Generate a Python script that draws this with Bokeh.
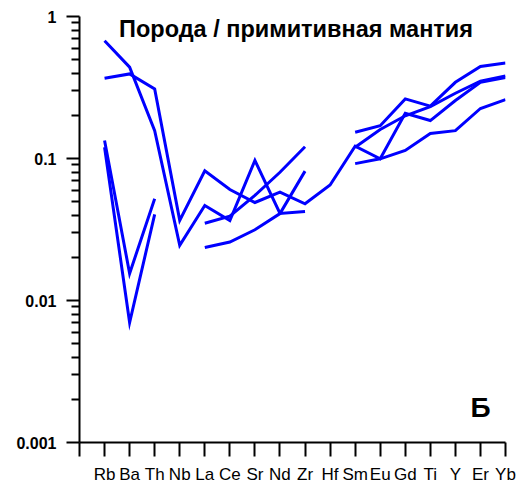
import numpy as np
from bokeh.plotting import figure
from bokeh.models import Range1d, FixedTicker, Label
from bokeh.embed import file_html
from bokeh.resources import INLINE

nan = np.nan

elements = ["Rb", "Ba", "Th", "Nb", "La", "Ce", "Sr", "Nd", "Zr", "Hf",
            "Sm", "Eu", "Gd", "Ti", "Y", "Er", "Yb"]

sample_1 = [0.675, 0.44, 0.157, 0.0245, 0.0467, 0.0366, 0.097, 0.041, 0.0424, nan,
            0.092, 0.0995, 0.114, 0.15, 0.157, 0.225, 0.26]
sample_2 = [0.367, 0.394, 0.309, 0.0367, 0.082, 0.0605, 0.049, 0.058, 0.048, 0.065,
            0.122, 0.0995, 0.208, 0.185, 0.256, 0.344, 0.372]
sample_3 = [0.134, 0.0155, 0.052, nan, 0.035, 0.0393, 0.055, 0.08, 0.121, nan,
            0.153, 0.17, 0.263, 0.234, 0.344, 0.445, 0.47]
sample_4 = [0.12, 0.007, 0.0404, nan, 0.0236, 0.0258, 0.0315, 0.0409, 0.0815, nan,
            0.12, 0.16, 0.2, 0.232, 0.288, 0.35, 0.382]

y_ticks = [0.001, 0.01, 0.1, 1]
y_tick_labels = ["0.001", "0.01", "0.1", "1"]

title_text = "Порода / примитивная мантия"
panel_text = "Б"

FONT = "Liberation Sans"

p = figure(width=520, height=486, y_axis_type="log",
           x_range=Range1d(0, 17), y_range=Range1d(0.001, 1),
           output_backend="svg", toolbar_location=None,
           min_border_left=79, min_border_right=15,
           min_border_top=16, min_border_bottom=44)

p.xgrid.visible = False
p.ygrid.visible = False
p.outline_line_color = None

xs = list(range(1, len(elements) + 1))
for s in (sample_1, sample_2, sample_3, sample_4):
    p.line(xs, s, line_color="#0000FF", line_width=3, line_join="miter")

# x axis
xa = p.xaxis[0]
xa.ticker = FixedTicker(ticks=list(range(0, len(elements) + 1)))
ov = {0: ""}
for i, e in enumerate(elements):
    ov[i + 1] = e
xa.major_label_overrides = ov
xa.axis_line_width = 2
xa.major_tick_line_width = 2
xa.major_tick_in = 0
xa.major_tick_out = 14
xa.minor_tick_line_color = None
xa.major_label_standoff = 8
xa.major_label_text_font = FONT
xa.major_label_text_font_size = "17px"
xa.major_label_text_color = "black"

# y axis
minor = []
for dec in (0.001, 0.01, 0.1):
    for m in range(2, 10):
        minor.append(dec * m)
ya = p.yaxis[0]
ya.ticker = FixedTicker(ticks=y_ticks, minor_ticks=minor)
ya.major_label_overrides = {t: l for t, l in zip(y_ticks, y_tick_labels)}
ya.axis_line_width = 2
ya.major_tick_line_width = 2
ya.major_tick_line_color = "black"
ya.minor_tick_line_width = 2
ya.minor_tick_line_color = "black"
ya.major_tick_in = 0
ya.major_tick_out = 13
ya.minor_tick_in = 0
ya.minor_tick_out = 8
ya.major_label_standoff = 10
ya.major_label_text_font = FONT
ya.major_label_text_font_size = "16px"
ya.major_label_text_font_style = "bold"
ya.major_label_text_color = "black"

p.add_layout(Label(x=8.64, y=0.819, text=title_text, text_align="center",
                   text_baseline="alphabetic", text_font=FONT,
                   text_font_size="23.5px", text_font_style="bold",
                   text_color="black"))
p.add_layout(Label(x=16.0, y=0.00177, text=panel_text, text_align="center",
                   text_baseline="alphabetic", text_font=FONT,
                   text_font_size="28px", text_font_style="bold",
                   text_color="black"))

open("out.html", "w").write(file_html(p, INLINE))
